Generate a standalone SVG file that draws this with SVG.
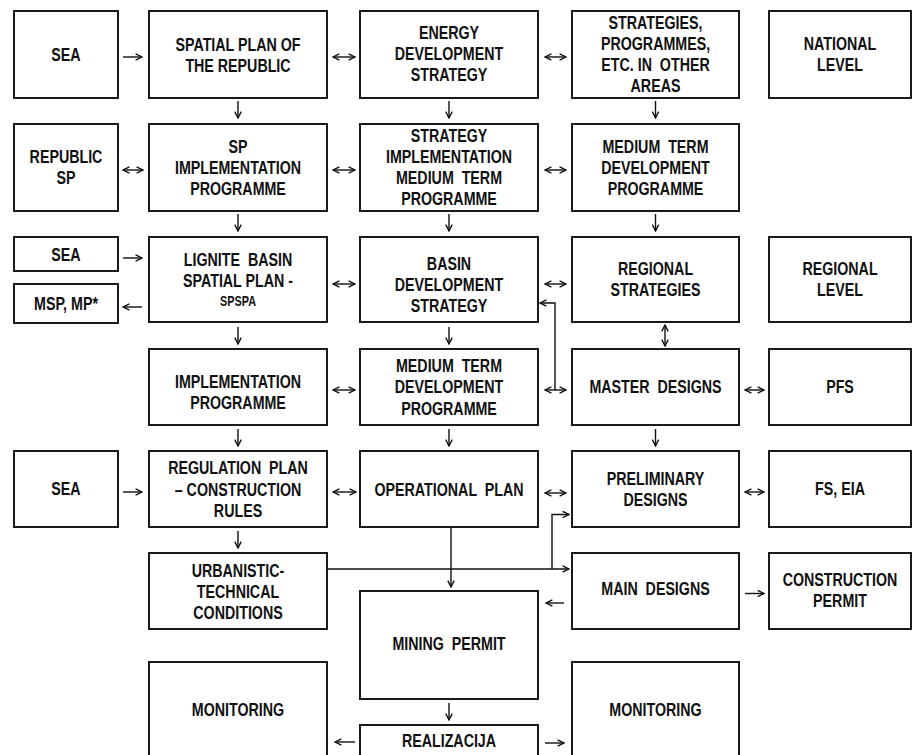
<svg xmlns="http://www.w3.org/2000/svg" width="917" height="755" viewBox="0 0 917 755">
<style>
.b{fill:#fff;stroke:#1a1a1a;stroke-width:2}
.t{font-family:"Liberation Sans",Arial,sans-serif;font-weight:bold;font-size:19px;fill:#111;text-anchor:middle;white-space:pre}
.s{font-size:14.5px}
.c{fill:none;stroke:#111;stroke-width:1.4}
.a{marker-end:url(#ah)}
.d{marker-start:url(#ah);marker-end:url(#ah)}
</style>
<defs>
<marker id="ah" viewBox="0 0 10 10" refX="9" refY="5" markerWidth="8" markerHeight="8" orient="auto-start-reverse" markerUnits="userSpaceOnUse">
<path d="M1,1 L9,5 L1,9" fill="none" stroke="#111" stroke-width="1.7"/>
</marker>
</defs>
<rect width="917" height="755" fill="#fff"/>

<g id="sea1"><rect class="b" x="14" y="11" width="104" height="87"/><g transform="translate(66 0) scale(.75 1)"><text class="t" x="0" y="61">SEA</text></g></g>
<g id="spatial-plan"><rect class="b" x="149" y="11" width="178" height="87"/><g transform="translate(238 0) scale(.75 1)"><text class="t" x="0" y="51">SPATIAL PLAN OF</text><text class="t" x="0" y="72">THE REPUBLIC</text></g></g>
<g id="energy"><rect class="b" x="360" y="11" width="178" height="87"/><g transform="translate(449 0) scale(.75 1)"><text class="t" x="0" y="39.5">ENERGY</text><text class="t" x="0" y="60.5">DEVELOPMENT</text><text class="t" x="0" y="81.5">STRATEGY</text></g></g>
<g id="strategies-other"><rect class="b" x="572" y="11" width="167" height="87"/><g transform="translate(655.5 0) scale(.75 1)"><text class="t" x="0" y="29">STRATEGIES,</text><text class="t" x="0" y="50">PROGRAMMES,</text><text class="t" x="0" y="71">ETC. IN  OTHER</text><text class="t" x="0" y="92">AREAS</text></g></g>
<g id="national"><rect class="b" x="769" y="11" width="142" height="87"/><g transform="translate(840 0) scale(.75 1)"><text class="t" x="0" y="50.5">NATIONAL</text><text class="t" x="0" y="71.5">LEVEL</text></g></g>

<g id="republic-sp"><rect class="b" x="14" y="124" width="104" height="87"/><g transform="translate(66 0) scale(.75 1)"><text class="t" x="0" y="163.5">REPUBLIC</text><text class="t" x="0" y="184.5">SP</text></g></g>
<g id="sp-impl"><rect class="b" x="149" y="124" width="178" height="87"/><g transform="translate(238 0) scale(.75 1)"><text class="t" x="0" y="153.5">SP</text><text class="t" x="0" y="174.5">IMPLEMENTATION</text><text class="t" x="0" y="195.5">PROGRAMME</text></g></g>
<g id="strategy-impl"><rect class="b" x="360" y="124" width="178" height="87"/><g transform="translate(449 0) scale(.75 1)"><text class="t" x="0" y="142">STRATEGY</text><text class="t" x="0" y="163">IMPLEMENTATION</text><text class="t" x="0" y="184">MEDIUM  TERM</text><text class="t" x="0" y="205">PROGRAMME</text></g></g>
<g id="medium-term-dev"><rect class="b" x="572" y="124" width="167" height="87"/><g transform="translate(655.5 0) scale(.75 1)"><text class="t" x="0" y="153.5">MEDIUM  TERM</text><text class="t" x="0" y="174.5">DEVELOPMENT</text><text class="t" x="0" y="195.5">PROGRAMME</text></g></g>

<g id="sea2"><rect class="b" x="14" y="237" width="104" height="34"/><g transform="translate(66 0) scale(.75 1)"><text class="t" x="0" y="261">SEA</text></g></g>
<g id="msp"><rect class="b" x="14" y="284" width="104" height="39"/><g transform="translate(66 0) scale(.75 1)"><text class="t" x="0" y="310.5">MSP, MP*</text></g></g>
<g id="lignite"><rect class="b" x="149" y="237" width="178" height="85"/><g transform="translate(238 0) scale(.75 1)"><text class="t" x="0" y="266.5">LIGNITE  BASIN</text><text class="t" x="0" y="287">SPATIAL PLAN -</text><text class="t s" x="0" y="306">SPSPA</text></g></g>
<g id="basin-dev"><rect class="b" x="360" y="237" width="178" height="85"/><g transform="translate(449 0) scale(.75 1)"><text class="t" x="0" y="270">BASIN</text><text class="t" x="0" y="291">DEVELOPMENT</text><text class="t" x="0" y="312">STRATEGY</text></g></g>
<g id="regional-strategies"><rect class="b" x="572" y="237" width="167" height="85"/><g transform="translate(655.5 0) scale(.75 1)"><text class="t" x="0" y="275">REGIONAL</text><text class="t" x="0" y="296">STRATEGIES</text></g></g>
<g id="regional-level"><rect class="b" x="769" y="237" width="142" height="85"/><g transform="translate(840 0) scale(.75 1)"><text class="t" x="0" y="275">REGIONAL</text><text class="t" x="0" y="296">LEVEL</text></g></g>

<g id="impl-programme"><rect class="b" x="149" y="349" width="178" height="76"/><g transform="translate(238 0) scale(.75 1)"><text class="t" x="0" y="388.5">IMPLEMENTATION</text><text class="t" x="0" y="409.5">PROGRAMME</text></g></g>
<g id="medium-term-dev2"><rect class="b" x="360" y="349" width="178" height="76"/><g transform="translate(449 0) scale(.75 1)"><text class="t" x="0" y="372">MEDIUM  TERM</text><text class="t" x="0" y="393.5">DEVELOPMENT</text><text class="t" x="0" y="415">PROGRAMME</text></g></g>
<g id="master-designs"><rect class="b" x="572" y="349" width="167" height="76"/><g transform="translate(655.5 0) scale(.75 1)"><text class="t" x="0" y="393.5">MASTER  DESIGNS</text></g></g>
<g id="pfs"><rect class="b" x="769" y="349" width="142" height="76"/><g transform="translate(840 0) scale(.75 1)"><text class="t" x="0" y="393.5">PFS</text></g></g>

<g id="sea3"><rect class="b" x="14" y="451" width="104" height="76"/><g transform="translate(66 0) scale(.75 1)"><text class="t" x="0" y="495.5">SEA</text></g></g>
<g id="regulation-plan"><rect class="b" x="149" y="451" width="178" height="76"/><g transform="translate(238 0) scale(.75 1)"><text class="t" x="0" y="474.5">REGULATION  PLAN</text><text class="t" x="0" y="496">– CONSTRUCTION</text><text class="t" x="0" y="517">RULES</text></g></g>
<g id="operational-plan"><rect class="b" x="360" y="451" width="178" height="76"/><g transform="translate(449 0) scale(.75 1)"><text class="t" x="0" y="496">OPERATIONAL  PLAN</text></g></g>
<g id="preliminary-designs"><rect class="b" x="572" y="451" width="167" height="76"/><g transform="translate(655.5 0) scale(.75 1)"><text class="t" x="0" y="485">PRELIMINARY</text><text class="t" x="0" y="506">DESIGNS</text></g></g>
<g id="fs-eia"><rect class="b" x="769" y="451" width="142" height="76"/><g transform="translate(840 0) scale(.75 1)"><text class="t" x="0" y="495.5">FS, EIA</text></g></g>

<g id="urbanistic"><rect class="b" x="149" y="553" width="178" height="76"/><g transform="translate(238 0) scale(.75 1)"><text class="t" x="0" y="577">URBANISTIC-</text><text class="t" x="0" y="598">TECHNICAL</text><text class="t" x="0" y="619">CONDITIONS</text></g></g>
<g id="main-designs"><rect class="b" x="572" y="553" width="167" height="76"/><g transform="translate(655.5 0) scale(.75 1)"><text class="t" x="0" y="594.5">MAIN  DESIGNS</text></g></g>
<g id="construction-permit"><rect class="b" x="769" y="553" width="142" height="76"/><g transform="translate(840 0) scale(.75 1)"><text class="t" x="0" y="586">CONSTRUCTION</text><text class="t" x="0" y="607">PERMIT</text></g></g>

<g id="mining-permit"><rect class="b" x="360" y="591" width="178" height="108"/><g transform="translate(449 0) scale(.75 1)"><text class="t" x="0" y="650.5">MINING  PERMIT</text></g></g>
<g id="monitoring-left"><rect class="b" x="149" y="662" width="178" height="100"/><g transform="translate(238 0) scale(.75 1)"><text class="t" x="0" y="716">MONITORING</text></g></g>
<g id="realizacija"><rect class="b" x="360" y="725" width="178" height="40"/><g transform="translate(449 0) scale(.75 1)"><text class="t" x="0" y="747">REALIZACIJA</text></g></g>
<g id="monitoring-right"><rect class="b" x="572" y="662" width="167" height="100"/><g transform="translate(655.5 0) scale(.75 1)"><text class="t" x="0" y="716">MONITORING</text></g></g>

<g id="connectors">
<line class="c a" x1="123" y1="57" x2="142" y2="57"/>
<line class="c d" x1="333" y1="57" x2="355" y2="57"/>
<line class="c d" x1="545" y1="57" x2="566" y2="57"/>
<line class="c a" x1="238" y1="101" x2="238" y2="118"/>
<line class="c a" x1="449" y1="101" x2="449" y2="118"/>
<line class="c a" x1="655.5" y1="101" x2="655.5" y2="118"/>
<line class="c d" x1="123" y1="170" x2="143" y2="170"/>
<line class="c d" x1="333" y1="170" x2="355" y2="170"/>
<line class="c d" x1="545" y1="170" x2="566" y2="170"/>
<line class="c a" x1="238" y1="214" x2="238" y2="231"/>
<line class="c a" x1="449" y1="214" x2="449" y2="231"/>
<line class="c a" x1="655.5" y1="214" x2="655.5" y2="231"/>
<line class="c a" x1="123" y1="258" x2="142" y2="258"/>
<line class="c a" x1="142" y1="307" x2="123" y2="307"/>
<line class="c d" x1="333" y1="284" x2="355" y2="284"/>
<line class="c d" x1="545" y1="284" x2="566" y2="284"/>
<polyline class="c a" points="555,390 555,303 540,303"/>
<line class="c d" x1="665" y1="325" x2="665" y2="346"/>
<line class="c a" x1="238" y1="327" x2="238" y2="344"/>
<line class="c a" x1="449" y1="327" x2="449" y2="344"/>
<line class="c d" x1="333" y1="390" x2="355" y2="390"/>
<line class="c d" x1="545" y1="390" x2="566" y2="390"/>
<line class="c d" x1="745" y1="390" x2="764" y2="390"/>
<line class="c a" x1="238" y1="429" x2="238" y2="446"/>
<line class="c a" x1="449" y1="429" x2="449" y2="446"/>
<line class="c a" x1="655.5" y1="429" x2="655.5" y2="446"/>
<line class="c a" x1="123" y1="492" x2="142" y2="492"/>
<line class="c d" x1="333" y1="492" x2="356" y2="492"/>
<line class="c d" x1="545" y1="493" x2="566" y2="493"/>
<line class="c d" x1="745" y1="492" x2="764" y2="492"/>
<line class="c a" x1="238" y1="531" x2="238" y2="548"/>
<line class="c a" x1="451" y1="527" x2="451" y2="587"/>
<line class="c a" x1="327" y1="569" x2="569" y2="569"/>
<polyline class="c a" points="552,569 552,514.5 569,514.5"/>
<line class="c a" x1="564" y1="603" x2="546" y2="603"/>
<line class="c a" x1="745" y1="593.5" x2="764" y2="593.5"/>
<line class="c a" x1="449" y1="703" x2="449" y2="720"/>
<line class="c a" x1="355" y1="742" x2="335" y2="742"/>
<line class="c a" x1="545" y1="743" x2="564" y2="743"/>
</g>
</svg>
